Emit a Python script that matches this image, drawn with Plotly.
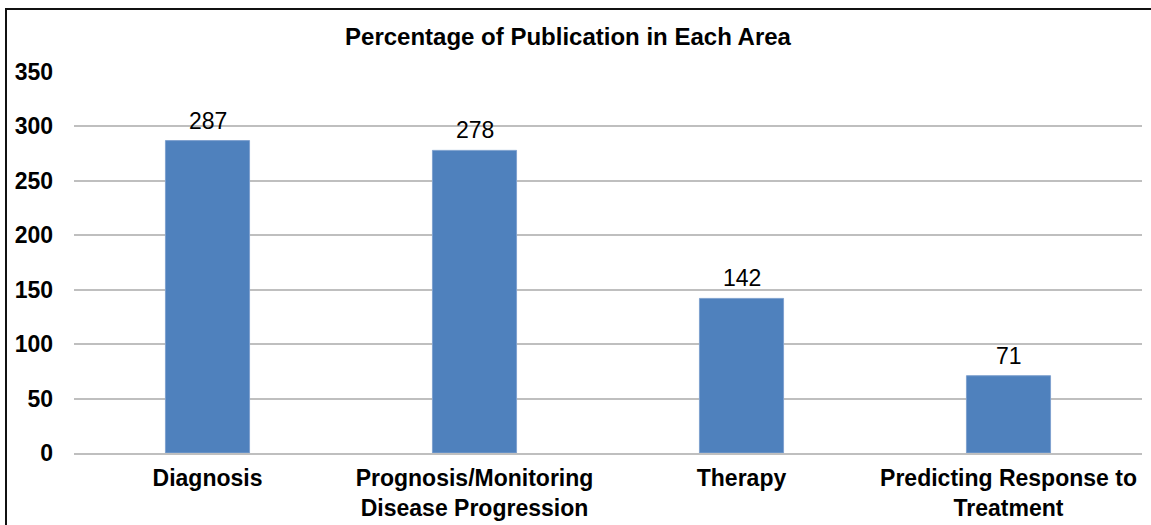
import plotly.graph_objects as go

categories = ["Diagnosis", "Prognosis/Monitoring<br>Disease Progression", "Therapy", "Predicting Response to<br>Treatment"]
values = [287, 278, 142, 71]
y_ticks = [0, 50, 100, 150, 200, 250, 300, 350]
title_text = "Percentage of Publication in Each Area"

W, H = 1151, 525
L, R, T, B = 74, 9, 72, 72
pw = W - L - R
ph = H - T - B
FONT = "Liberation Sans, Arial, sans-serif"

fig = go.Figure()
fig.add_trace(go.Bar(
    x=categories, y=values,
    marker=dict(color="#4F81BD", line=dict(color="#7FA1CF", width=1)),
    width=0.315,
    hoverinfo="x+y",
))

for c, v in zip(categories, values):
    fig.add_annotation(x=c, y=v, text=str(v), showarrow=False, yanchor="bottom", yshift=5,
                       font=dict(family=FONT, size=23, color="#000000"))

def px_x(px):
    return (px - L) / pw

def px_y(py):
    return (H - B - py) / ph

fig.add_shape(type="rect", xref="paper", yref="paper",
              x0=px_x(6), x1=px_x(W + 10), y0=px_y(H + 10), y1=px_y(9),
              line=dict(color="#111111", width=2), fillcolor="rgba(0,0,0,0)", layer="above")

fig.update_layout(
    width=W, height=H,
    margin=dict(l=L, r=R, t=T, b=B, pad=0, autoexpand=False),
    paper_bgcolor="white", plot_bgcolor="white",
    showlegend=False,
    title=dict(text=title_text, x=568 / W, xanchor="center", y=1 - 37 / H, yanchor="middle",
               xref="container", yref="container", automargin=False,
               font=dict(family=FONT, size=24, color="#000000", weight="bold")),
    font=dict(family=FONT, color="#000000"),
)
fig.update_yaxes(range=[0, 350], tickvals=y_ticks, ticktext=[str(t) for t in y_ticks],
                 showgrid=True, gridcolor="#BFBFBF", gridwidth=1.5,
                 zeroline=False, showline=False, automargin=False,
                 ticks="", ticklabelstandoff=20,
                 tickfont=dict(family=FONT, size=23, color="#000000", weight="bold"))
fig.update_xaxes(showgrid=False, showline=True, linecolor="#BFBFBF", linewidth=1.5,
                 ticks="", ticklabelstandoff=4, automargin=False,
                 tickfont=dict(family=FONT, size=23, color="#000000", weight="bold"))

fig.write_html("out.html", config={"displayModeBar": False},
               post_script="document.body.style.margin='0';")
